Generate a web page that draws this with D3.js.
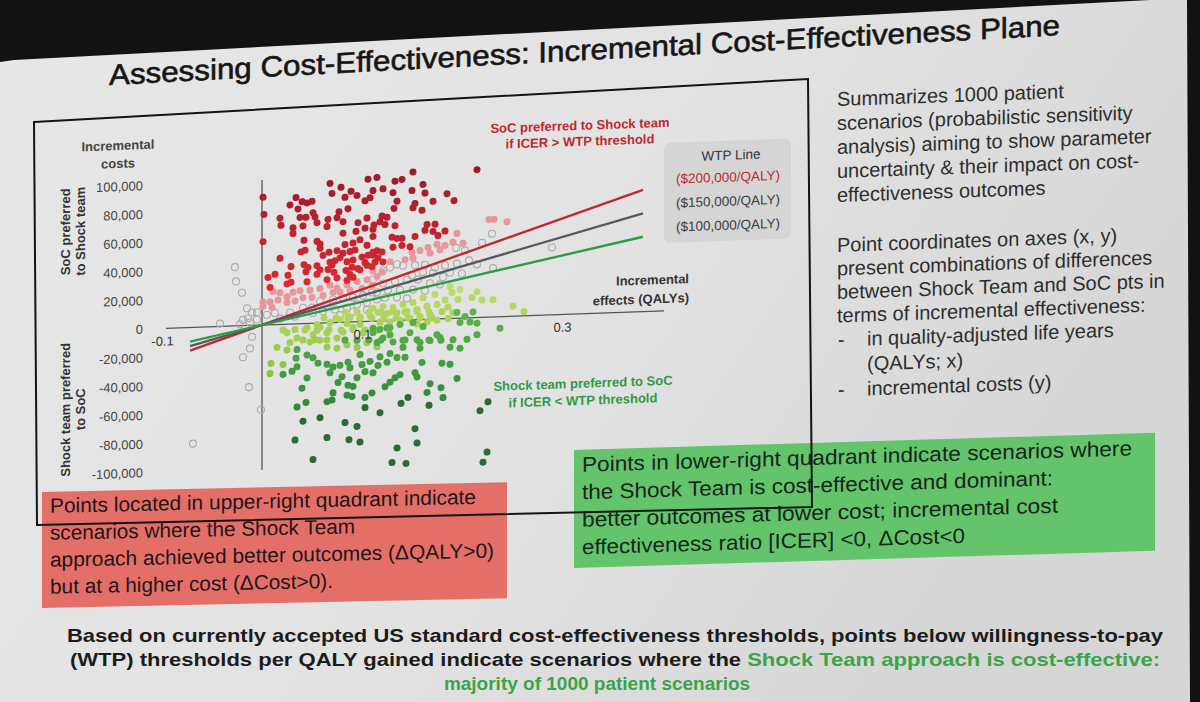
<!DOCTYPE html>
<html>
<head>
<meta charset="utf-8">
<script src="https://cdn.jsdelivr.net/npm/d3@7"></script>
<style>
  html, body { margin: 0; padding: 0; background: #121212; }
  svg { display: block; font-family: "Liberation Sans", Arial, sans-serif; }
</style>
</head>
<body>
<svg id="slide" width="1200" height="702"></svg>
<script>
// ---- chart data ----
// each scenario: [incremental QALYs, incremental cost in $]
const xTicks = [-0.1, 0.1, 0.3];
const yTicks = [100000, 80000, 60000, 40000, 20000, 0, -20000, -40000, -60000, -80000, -100000];
const xAxisSpan = [-0.096, 0.402];
const yAxisSpan = [-101000, 101000];

const wtpLabels = ["($200,000/QALY)", "($150,000/QALY)", "($100,000/QALY)"];
const wtpSlopes = [223000, 180000, 137000];   // slope of the drawn lines, $ per QALY
const wtpSpan = [-0.072, 0.381];

const redScenarios = [
  [0.001, 89000], [0.002, 77000], [0.001, 58000], [0.068, 97000], [0.079, 94000], [0.106, 99000],
  [0.115, 100000], [0.070, 90000], [0.089, 91000], [0.083, 87000], [0.095, 88000], [0.111, 91000],
  [0.108, 86000], [0.103, 84000], [0.034, 88000], [0.028, 83000], [0.040, 85000], [0.045, 84000],
  [0.050, 85000], [0.036, 80000], [0.051, 77000], [0.053, 74000], [0.044, 74000], [0.018, 74000],
  [0.038, 74000], [0.066, 72000], [0.075, 73000], [0.081, 70000], [0.096, 69000], [0.105, 72000],
  [0.086, 79000], [0.077, 77000], [0.065, 67000], [0.055, 70000], [0.041, 68000], [0.019, 69000],
  [0.031, 67000], [0.031, 63000], [0.081, 62000], [0.094, 63000], [0.103, 65000], [0.112, 67000],
  [0.042, 58000], [0.055, 57000], [0.058, 55000], [0.105, 53000], [0.091, 55000], [0.098, 57000],
  [0.111, 59000], [0.039, 50000], [0.043, 51000], [0.061, 47000], [0.067, 49000], [0.075, 50000],
  [0.081, 48000], [0.088, 49000], [0.073, 43000], [0.078, 45000], [0.085, 42000], [0.091, 43000],
  [0.100, 45000], [0.106, 46000], [0.111, 48000], [0.018, 46000], [0.029, 40000], [0.042, 41000],
  [0.046, 39000], [0.044, 36000], [0.055, 40000], [0.058, 37000], [0.066, 37000], [0.070, 40000],
  [0.072, 35000], [0.084, 36000], [0.090, 38000], [0.096, 37000], [0.105, 39000], [0.113, 41000],
  [0.006, 33000], [0.013, 35000], [0.026, 34000], [0.029, 29000], [0.025, 28000], [0.045, 29000],
  [0.055, 34000], [0.065, 30000], [0.075, 31000], [0.008, 26000], [0.085, 29000], [0.091, 31000],
  [0.093, 50000], [0.083, 54000], [0.103, 41000], [0.068, 42000], [0.058, 52000], [0.098, 36000],
  [0.110, 38000], [0.088, 33000],
  [0.215, 103000], [0.151, 103000], [0.133, 97000], [0.140, 98000], [0.161, 94000], [0.121, 92000],
  [0.131, 89000], [0.150, 90000], [0.163, 88000], [0.185, 87000], [0.135, 83000], [0.171, 82000],
  [0.192, 82000], [0.153, 81000], [0.151, 78000], [0.160, 76000], [0.132, 78000], [0.120, 73000],
  [0.125, 72000], [0.118, 69000], [0.123, 67000], [0.133, 66000], [0.165, 66000], [0.173, 66000],
  [0.163, 62000], [0.171, 61000], [0.176, 58000], [0.183, 61000], [0.111, 64000], [0.153, 58000],
  [0.130, 58000], [0.135, 57000], [0.140, 57000], [0.131, 51000], [0.140, 52000], [0.148, 51000],
  [0.115, 49000], [0.120, 48000], [0.111, 46000], [0.116, 44000], [0.121, 41000]
];

const pinkScenarios = [
  [0.011, 23000], [0.018, 22000], [0.025, 19000], [0.031, 22000], [0.038, 23000], [0.048, 23000],
  [0.058, 24000], [0.068, 26000], [0.075, 24000], [0.085, 26000], [0.095, 28000], [0.105, 29000],
  [0.115, 31000], [0.001, 16000], [0.008, 16000], [0.016, 17000], [0.025, 15000], [0.033, 16000],
  [0.041, 18000], [0.050, 18000], [0.061, 19000], [0.071, 21000], [0.078, 21000], [0.088, 22000],
  [0.100, 23000], [0.110, 25000], [0.001, 13000], [0.010, 12000],
  [0.195, 59000], [0.183, 51000], [0.175, 52000], [0.166, 50000], [0.178, 48000], [0.158, 48000],
  [0.168, 46000], [0.150, 47000], [0.151, 43000], [0.143, 42000], [0.128, 41000], [0.111, 35000],
  [0.120, 34000], [0.227, 68000], [0.232, 68000], [0.245, 66000], [0.191, 53000], [0.201, 52000]
];

const greyScenarios = [
  [-0.027, 41000], [-0.026, 31000], [-0.020, 23000], [-0.042, 2000], [-0.010, -8000], [-0.012, -16000],
  [-0.019, -22000], [-0.013, -43000], [-0.001, -59000], [-0.069, -81000], [-0.019, 4000], [-0.014, 5000],
  [-0.005, 4000], [-0.015, 12000], [-0.010, 9000], [-0.005, 9000], [-0.022, 1000], [-0.012, 2000],
  [0.005, 7000], [0.013, 8000], [0.018, 4000], [0.028, 8000], [0.033, 5000], [0.041, 11000],
  [0.050, 11000], [0.058, 15000], [0.065, 12000], [0.071, 16000], [0.081, 17000], [0.091, 17000],
  [0.101, 18000], [0.110, 20000], [0.051, 7000], [0.061, 8000], [0.073, 9000], [0.085, 10000],
  [0.095, 12000], [0.105, 13000], [0.115, 15000], [0.078, 5000], [0.091, 7000], [0.105, 8000],
  [0.230, 58000], [0.220, 52000], [0.290, 47000], [0.194, 49000], [0.203, 47000], [0.207, 40000],
  [0.195, 38000], [0.183, 37000], [0.173, 36000], [0.163, 38000], [0.153, 38000], [0.141, 38000],
  [0.135, 39000], [0.128, 37000], [0.121, 35000], [0.150, 31000], [0.161, 33000], [0.171, 32000],
  [0.181, 29000], [0.188, 32000], [0.215, 37000], [0.200, 31000], [0.231, 34000], [0.111, 29000],
  [0.121, 26000], [0.133, 27000], [0.145, 28000], [0.156, 28000], [0.168, 25000], [0.178, 24000],
  [0.115, 20000], [0.126, 21000], [0.138, 21000], [0.151, 21000], [0.163, 20000], [0.123, 16000],
  [0.135, 16000], [0.145, 15000]
];

const lightGreenScenarios = [
  [0.058, -3000], [0.068, 0], [0.078, 2000], [0.088, 3000], [0.098, 3000], [0.108, 4000], [0.116, 6000],
  [0.188, 22000], [0.198, 20000], [0.190, 18000], [0.215, 18000], [0.210, 14000], [0.220, 12000],
  [0.231, 12000], [0.251, 7000], [0.262, 3000], [0.196, 13000], [0.183, 13000], [0.173, 17000],
  [0.161, 15000], [0.151, 12000], [0.141, 11000], [0.131, 9000], [0.121, 10000], [0.111, 9000],
  [0.175, 10000], [0.186, 8000], [0.165, 9000], [0.155, 7000], [0.145, 6000], [0.135, 5000],
  [0.125, 5000], [0.180, 5000], [0.191, 4000], [0.168, 3000], [0.158, 2000], [0.148, 1000],
  [0.138, 0], [0.128, -1000], [0.118, -1000], [0.175, -1000], [0.186, 0], [0.165, -2000], [0.155, -3000],
  [0.015, -16000], [0.025, -18000], [0.009, -27000], [0.021, -28000], [0.028, -13000], [0.035, -10000],
  [0.025, -6000], [0.033, -4000], [0.045, -3000], [0.051, -8000], [0.058, -12000], [0.048, -13000],
  [0.065, -7000], [0.075, -11000], [0.081, -7000], [0.091, -4000], [0.101, -8000], [0.111, -6000],
  [0.055, -1000], [0.085, -1000], [0.098, -2000], [0.065, -17000], [0.075, -18000], [0.085, -16000],
  [0.095, -18000], [0.105, -15000], [0.115, -18000], [0.021, -4000], [0.008, -34000],
  [0.083, 7000], [0.095, 7000], [0.107, 6500], [0.119, 6000], [0.131, 6000], [0.143, 5500],
  [0.155, 5500], [0.167, 5000], [0.062, 3500], [0.074, 3000], [0.086, 3000], [0.098, 2500],
  [0.110, 2000], [0.122, 2000], [0.134, 1500], [0.146, 1500], [0.158, 1000], [0.170, 700],
  [0.043, -4500], [0.055, -5000], [0.067, -5000], [0.079, -5500], [0.091, -5500], [0.103, -6000],
  [0.115, -6500], [0.127, -6500], [0.041, -11500], [0.053, -11500], [0.065, -12000]
];

const greenScenarios = [
  [0.195, 4000], [0.203, 1000], [0.198, -3000], [0.208, -3000], [0.215, -4000], [0.211, 4000],
  [0.238, -8000], [0.111, -5000], [0.125, -5000],
  [0.035, -18000], [0.034, -24000], [0.035, -30000], [0.030, -33000], [0.045, -22000], [0.051, -24000],
  [0.045, -38000], [0.056, -28000], [0.065, -29000], [0.071, -31000], [0.068, -35000], [0.078, -30000],
  [0.086, -28000], [0.088, -32000], [0.098, -23000], [0.100, -30000], [0.108, -28000], [0.116, -31000],
  [0.080, -38000], [0.076, -42000], [0.086, -44000], [0.095, -39000], [0.091, -45000], [0.103, -35000],
  [0.111, -36000], [0.085, -51000], [0.090, -52000], [0.071, -49000], [0.070, -54000], [0.065, -55000],
  [0.040, -45000], [0.044, -55000], [0.035, -58000], [0.110, -50000], [0.103, -53000], [0.021, -35000],
  [0.215, -12000], [0.205, -15000], [0.198, -21000], [0.188, -20000], [0.175, -11000], [0.168, -15000],
  [0.158, -16000], [0.178, -13000], [0.158, -20000], [0.141, -14000], [0.131, -15000], [0.121, -12000],
  [0.115, -15000], [0.141, -19000], [0.128, -23000], [0.118, -25000], [0.125, -29000], [0.135, -26000],
  [0.143, -26000], [0.160, -30000], [0.180, -31000], [0.188, -32000], [0.153, -37000], [0.155, -40000],
  [0.195, -42000], [0.138, -38000], [0.133, -40000], [0.128, -43000], [0.123, -46000], [0.168, -45000],
  [0.179, -48000], [0.165, -51000], [0.181, -55000],
  [0.118, -6000], [0.128, -5000], [0.138, -3000], [0.151, -2000], [0.161, -5000], [0.148, -9000],
  [0.128, -10000], [0.111, -8000],
  [0.083, -12500], [0.095, -13000], [0.107, -13000], [0.119, -13500], [0.143, -14000], [0.155, -14000],
  [0.167, -14500], [0.179, -15000], [0.191, -15000]
];

const darkGreenScenarios = [
  [0.041, -68000], [0.058, -66000], [0.083, -70000], [0.095, -73000], [0.033, -81000], [0.065, -80000],
  [0.087, -82000], [0.098, -84000], [0.051, -95000], [0.103, -60000], [0.139, -58000], [0.167, -60000],
  [0.146, -54000], [0.118, -64000], [0.226, -59000], [0.218, -65000], [0.153, -76000], [0.155, -86000],
  [0.135, -89000], [0.225, -94000], [0.221, -101000], [0.130, -99000], [0.144, -100000]
];

// ---- slide text ----
const title = "Assessing Cost-Effectiveness: Incremental Cost-Effectiveness Plane";
const sideText1 = ["Summarizes 1000 patient", "scenarios (probabilistic sensitivity",
  "analysis) aiming to show parameter", "uncertainty & their impact on cost-", "effectiveness outcomes"];
const sideText2 = ["Point coordinates on axes (x, y)", "present combinations of differences",
  "between Shock Team and SoC pts in", "terms of incremental effectiveness:"];
const sideBullets = [["in quality-adjusted life years", "(QALYs; x)"], ["incremental costs (y)"]];
const redBoxText = ["Points located in upper-right quadrant indicate", "scenarios where the Shock Team",
  "approach achieved better outcomes (\u0394QALY>0)", "but at a higher cost (\u0394Cost>0)."];
const redBoxWidths = [426, 305, 444, 283];
const greenBoxText = ["Points in lower-right quadrant indicate scenarios where",
  "the Shock Team is cost-effective and dominant:", "better outcomes at lower cost; incremental cost",
  "effectiveness ratio [ICER] <0, \u0394Cost<0"];
const greenBoxWidths = [550, 471, 476, 383];

const svg = d3.select("#slide");
const FONT = "'Liberation Sans', Arial, sans-serif";

// projector screen background
const defs = svg.append("defs");
const grad = defs.append("linearGradient").attr("id", "screen")
  .attr("x1", 0).attr("y1", 0).attr("x2", 1).attr("y2", 0.4);
grad.append("stop").attr("offset", 0).attr("stop-color", "#e7e7e7");
grad.append("stop").attr("offset", 0.6).attr("stop-color", "#e2e2e2");
grad.append("stop").attr("offset", 1).attr("stop-color", "#d6d6d6");

svg.append("rect").attr("width", 1200).attr("height", 702).attr("fill", "#121212");
svg.append("polygon")
  .attr("points", "14,60 1150,0 1187,0 1190,702 0,702 0,62")
  .attr("fill", "url(#screen)");

// title
svg.append("text")
  .attr("transform", "translate(109,85) skewY(-3)")
  .attr("font-size", 29)
  .attr("fill", "#161616")
  .attr("stroke", "#161616").attr("stroke-width", 0.6)
  .attr("textLength", 951)
  .attr("lengthAdjust", "spacingAndGlyphs")
  .text(title);

// ---- the plane ----
const xScale = d3.scaleLinear().domain([-0.1, 0.4]).range([162, 662]);
const yScale = d3.scaleLinear().domain([-100000, 100000]).range([468.5, 181.5]);
const fmtCost = d => d3.format(",")(d).replace("\u2212", "-");
const fmtQaly = d => d3.format(".1f")(d).replace("\u2212", "-");

const chart = svg.append("g")
  .attr("transform", "translate(262,325) skewY(-2) translate(-262,-325)");

// axis lines
chart.append("line")
  .attr("x1", xScale(xAxisSpan[0])).attr("x2", xScale(xAxisSpan[1]))
  .attr("y1", yScale(0)).attr("y2", yScale(0))
  .attr("stroke", "#555").attr("stroke-width", 1.3);
chart.append("line")
  .attr("x1", xScale(0)).attr("x2", xScale(0))
  .attr("y1", yScale(yAxisSpan[0])).attr("y2", yScale(yAxisSpan[1]))
  .attr("stroke", "#555").attr("stroke-width", 1.3);

// y tick labels
const yAxis = chart.append("g")
  .attr("transform", "translate(143,0)")
  .call(d3.axisLeft(yScale).tickValues(yTicks).tickSize(0).tickPadding(0).tickFormat(fmtCost));
yAxis.select(".domain").remove();
yAxis.attr("font-family", FONT).attr("font-size", 13);
yAxis.selectAll("text").attr("fill", "#464646");

// scenario points
function drawPoints(data, cls, fill, stroke) {
  chart.append("g").selectAll("circle." + cls)
    .data(data)
    .enter().append("circle")
    .attr("class", cls)
    .attr("cx", d => xScale(d[0]))
    .attr("cy", d => yScale(d[1]))
    .attr("r", 3.5)
    .attr("fill", fill)
    .attr("stroke", stroke)
    .attr("stroke-width", stroke === "none" ? 0 : 1.1);
}
const redShade = d3.scaleLinear().domain([25000, 100000]).range(["#dc2a30", "#9e1b2d"]).clamp(true);
const lightGreenShade = d3.scaleLinear().domain([20000, -35000]).range(["#bedc6a", "#8cc43e"]).clamp(true);
const greenShade = d3.scaleLinear().domain([5000, -60000]).range(["#5db648", "#2f873b"]).clamp(true);

drawPoints(greyScenarios, "grey", "none", "#ababab");
drawPoints(pinkScenarios, "pink", "#e7969a", "none");
drawPoints(redScenarios, "red", d => redShade(d[1]), "none");
drawPoints(lightGreenScenarios, "lgreen", d => lightGreenShade(d[1]), "none");
drawPoints(greenScenarios, "green", d => greenShade(d[1]), "none");
drawPoints(darkGreenScenarios, "dgreen", "#2c6a36", "none");

// WTP lines
const wtpColors = ["#c1272f", "#545a60", "#2f9a47"];
chart.append("g").selectAll("line")
  .data(wtpSlopes)
  .enter().append("line")
  .attr("x1", xScale(wtpSpan[0])).attr("y1", d => yScale(d * wtpSpan[0]))
  .attr("x2", xScale(wtpSpan[1])).attr("y2", d => yScale(d * wtpSpan[1]))
  .attr("stroke", (d, i) => wtpColors[i])
  .attr("stroke-width", 2.4);

// x tick labels (drawn over the points, as on the slide)
const xAxis = chart.append("g")
  .attr("transform", `translate(0,${yScale(0)})`)
  .call(d3.axisBottom(xScale).tickValues(xTicks).tickSize(0).tickPadding(8).tickFormat(fmtQaly));
xAxis.select(".domain").remove();
xAxis.attr("font-family", FONT).attr("font-size", 13);
xAxis.selectAll("text").attr("fill", "#333");

// axis titles and annotations
function label(g, x, y, txt, opts) {
  const t = g.append("text")
    .attr("x", x).attr("y", y)
    .attr("font-size", opts.size || 13)
    .attr("font-weight", opts.weight || "bold")
    .attr("fill", opts.fill || "#444")
    .attr("text-anchor", opts.anchor || "middle")
    .text(txt);
  if (opts.rotate) t.attr("transform", `rotate(-90,${x},${y})`);
  return t;
}
label(chart, 118, 145, "Incremental", {});
label(chart, 118, 163, "costs", {});
label(chart, 689, 298, "Incremental", { anchor: "end", fill: "#333" });
label(chart, 689, 317, "effects (QALYs)", { anchor: "end", fill: "#333" });
label(chart, 70, 225, "SoC preferred", { rotate: true, fill: "#333" });
label(chart, 85, 225, "to Shock team", { rotate: true, fill: "#333" });
label(chart, 70, 403, "Shock team preferred", { rotate: true, fill: "#333" });
label(chart, 85, 403, "to SoC", { rotate: true, fill: "#333" });

label(chart, 580, 141, "SoC preferred to Shock team", { fill: "#c1272f" });
label(chart, 580, 157, "if ICER > WTP threshold", { fill: "#c1272f" });
label(chart, 583, 399, "Shock team preferred to SoC", { fill: "#2f9a47" });
label(chart, 583, 416, "if ICER < WTP threshold", { fill: "#2f9a47" });

// WTP legend
chart.append("rect")
  .attr("x", 664).attr("y", 157).attr("width", 127).attr("height", 100).attr("rx", 6)
  .attr("fill", "#d2d2d2").attr("opacity", 0.8);
label(chart, 731, 176, "WTP Line", { weight: "normal", fill: "#333", size: 13.5 });
const wtpTextColors = ["#c1272f", "#3c3c3c", "#3c3c3c"];
chart.append("g").selectAll("text")
  .data(wtpLabels)
  .enter().append("text")
  .attr("x", 728)
  .attr("y", (d, i) => 198 + i * 24)
  .attr("text-anchor", "middle")
  .attr("font-size", 13.5)
  .attr("fill", (d, i) => wtpTextColors[i])
  .text(d => d);

// ---- right-hand notes ----
const side = svg.append("g")
  .attr("transform", "translate(837,106) skewY(-2)")
  .attr("font-size", 20).attr("fill", "#2e2e2e");
sideText1.forEach((t, i) => side.append("text").attr("x", 0).attr("y", i * 24).text(t));
sideText2.forEach((t, i) => side.append("text").attr("x", 0).attr("y", 146 + i * 23.5).text(t));
let by = 146 + 4 * 23.5 + 0.5;
sideBullets.forEach(lines => {
  side.append("text").attr("x", 1).attr("y", by).text("-");
  lines.forEach(t => {
    side.append("text").attr("x", 30).attr("y", by).text(t);
    by += 25;
  });
});

// ---- coloured call-out boxes ----
const redBox = svg.append("g").attr("transform", "translate(42,492) skewY(-1.2)");
redBox.append("rect").attr("width", 465).attr("height", 116).attr("fill", "#e46f69");
redBoxText.forEach((t, i) => redBox.append("text")
  .attr("x", 8).attr("y", 21 + i * 27).attr("font-size", 20.5).attr("fill", "#231616")
  .attr("textLength", redBoxWidths[i]).attr("lengthAdjust", "spacingAndGlyphs").text(t));

const greenBox = svg.append("g").attr("transform", "translate(574,450) skewY(-1.7)");
greenBox.append("rect").attr("width", 581).attr("height", 118).attr("fill", "#63c46c");
greenBoxText.forEach((t, i) => greenBox.append("text")
  .attr("x", 8).attr("y", 22 + i * 27.5).attr("font-size", 21).attr("fill", "#16261a")
  .attr("textLength", greenBoxWidths[i]).attr("lengthAdjust", "spacingAndGlyphs").text(t));

// outline round the plane (drawn last, it sits over the boxes on the slide)
svg.append("polygon")
  .attr("points", "34,122 808,79 812,507 37,525")
  .attr("fill", "none").attr("stroke", "#141414").attr("stroke-width", 2);

// ---- bottom statement ----
const foot = svg.append("g")
  .attr("font-size", 19).attr("font-weight", "bold").attr("fill", "#1c1c1c");
foot.append("text").attr("x", 67).attr("y", 642)
  .attr("textLength", 1096).attr("lengthAdjust", "spacingAndGlyphs")
  .text("Based on currently accepted US standard cost-effectiveness thresholds, points below willingness-to-pay");
const l2 = foot.append("text").attr("x", 70).attr("y", 666)
  .attr("textLength", 1090).attr("lengthAdjust", "spacingAndGlyphs");
l2.append("tspan").text("(WTP) thresholds per QALY gained indicate scenarios where the ");
l2.append("tspan").attr("fill", "#3ba449").text("Shock Team approach is cost-effective:");
foot.append("text").attr("x", 597).attr("y", 690).attr("text-anchor", "middle")
  .attr("fill", "#3ba449").text("majority of 1000 patient scenarios");
</script>
</body>
</html>
